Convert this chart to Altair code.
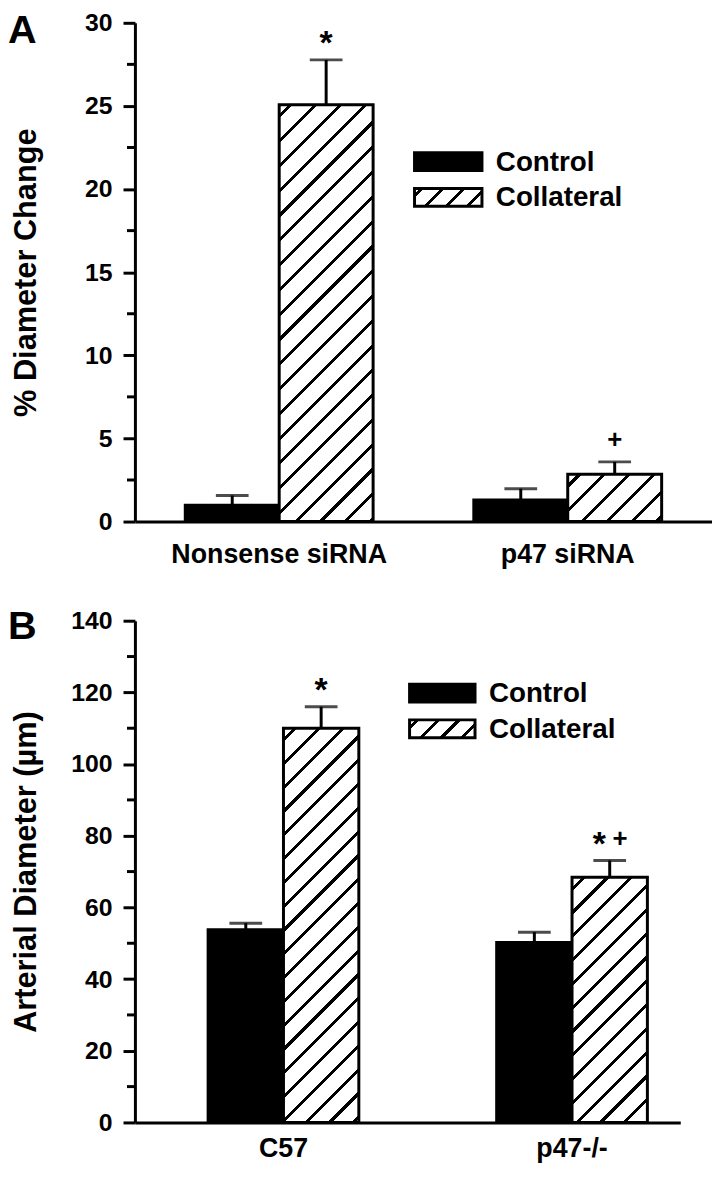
import altair as alt
import pandas as pd

# ---------------- data ----------------
series = ["Control", "Collateral"]

groups_a = ["Nonsense siRNA", "p47 siRNA"]
control_a = [0.98, 1.29]
control_a_err = [0.59, 0.69]
collateral_a = [25.07, 2.84]
collateral_a_err = [2.70, 0.75]
sig_a = ["*", "+"]            # markers above the Collateral bars
yticks_a = [0, 5, 10, 15, 20, 25, 30]
yminor_a = [2.5, 7.5, 12.5, 17.5, 22.5, 27.5]

groups_b = ["C57", "p47-/-"]
control_b = [53.8, 50.2]
control_b_err = [1.8, 2.9]
collateral_b = [110.0, 68.4]
collateral_b_err = [6.0, 4.7]
sig_b = ["*", "*+"]
yticks_b = [0, 20, 40, 60, 80, 100, 120, 140]
yminor_b = [10, 30, 50, 70, 90, 110, 130]

FONT = "Liberation Sans"


def table(groups, ctrl, ctrl_err, coll, coll_err, sig):
    rows = []
    for i, g in enumerate(groups):
        rows.append({"group": g, "series": "Control", "value": ctrl[i],
                     "upper": ctrl[i] + ctrl_err[i], "sig": ""})
        rows.append({"group": g, "series": "Collateral", "value": coll[i],
                     "upper": coll[i] + coll_err[i], "sig": sig[i]})
    return pd.DataFrame(rows)


def hatch(w, h, period, lw, phase):
    """Linear gradient with hard stops that draws '/' hatching in a w x h box."""
    S = w + h
    k = S / (w * w + h * h)
    stops = []

    def add(o, c):
        stops.append({"offset": round(min(max(o, 0.0), 1.0), 5), "color": c})

    add(0, "white")
    c = phase
    half = lw / 2.0
    while c - half < S:
        a = (c - half) / S
        b = (c + half) / S
        add(a, "white"); add(a, "black"); add(b, "black"); add(b, "white")
        c += period
    add(1, "white")
    return {"gradient": "linear", "x1": 0, "y1": 0,
            "x2": round(w * k, 5), "y2": round(h * k, 5), "stops": stops}


def panel(letter, letter_y, groups, df, yticks, yminor, ymax, ytitle, width, height,
          pin, pout, align, xlabel_pad, period, legend_x, legend_y, legend_w):
    yscale = alt.Scale(domain=[0, ymax], nice=False, zero=True)
    yaxis = alt.Axis(values=yticks, grid=False, title=ytitle,
                     domainColor="black", domainWidth=3,
                     tickColor="black", tickWidth=3, tickSize=12,
                     labelFont=FONT, labelFontSize=25, labelFontWeight="bold",
                     labelColor="black", labelPadding=11,
                     titleFont=FONT, titleFontSize=31, titleFontWeight="bold",
                     titleColor="black", titleX=-109, titleBaseline="middle")
    x = alt.X("group:N", sort=groups,
              scale=alt.Scale(domain=groups, paddingInner=pin, paddingOuter=pout, align=align),
              axis=alt.Axis(title=None, ticks=False, tickSize=0, labelAngle=0,
                            domainColor="black", domainWidth=3, labelLimit=0,
                            labelFont=FONT, labelFontSize=27, labelFontWeight="bold",
                            labelColor="black", labelPadding=xlabel_pad))
    xo = alt.XOffset("series:N", sort=series,
                     scale=alt.Scale(domain=series, paddingInner=0, paddingOuter=0))
    y_val = alt.Y("value:Q", scale=yscale, axis=yaxis)
    y_up = alt.Y("upper:Q", scale=yscale, axis=yaxis)

    base = alt.Chart(df).encode(x=x, xOffset=xo)

    step = width / (len(groups) - pin + 2 * pout)
    bar_w = step * (1 - pin) / len(series)

    layers = [
        base.transform_filter(alt.datum.series == "Control")
        .mark_bar(fill="black", stroke="black", strokeWidth=3)
        .encode(y=y_val)
    ]
    for g in groups:
        v = float(df[(df.group == g) & (df.series == "Collateral")].value.iloc[0])
        h = v / ymax * height
        layers.append(
            base.transform_filter((alt.datum.group == g) & (alt.datum.series == "Collateral"))
            .mark_bar(fill=hatch(bar_w, h, period, 4.2, 12), stroke="black", strokeWidth=3)
            .encode(y=y_val)
        )
    # error bars (upper only)
    layers.append(base.mark_rule(color="black", strokeWidth=3)
                  .encode(y=y_val, y2=alt.Y2("upper:Q")))
    layers.append(base.mark_tick(orient="horizontal", color="black", thickness=3, size=33)
                  .encode(y=y_up))
    # minor ticks of the y axis
    layers.append(alt.Chart(pd.DataFrame({"t": yminor})).mark_rule(color="black", strokeWidth=3)
                  .encode(y=alt.Y("t:Q", scale=yscale, axis=yaxis),
                          x=alt.value(-8), x2=alt.value(0)))
    # significance markers
    for g in groups:
        s = str(df[(df.group == g) & (df.series == "Collateral")].sig.iloc[0])
        n = len(s)
        for j, ch in enumerate(s):
            dx = (j - (n - 1) / 2.0) * 21
            if ch == "*":
                fs, dy = 34, -6
            else:
                fs, dy = 26, -14
            layers.append(
                base.transform_filter((alt.datum.group == g) & (alt.datum.series == "Collateral"))
                .mark_text(text=ch, dx=dx, dy=dy, fontSize=fs, font=FONT,
                           fontWeight="bold", color="black", baseline="alphabetic")
                .encode(y=y_up)
            )
    # legend
    leg = pd.DataFrame({"series": series})
    lh = 18
    for i, s in enumerate(series):
        top = legend_y + i * 36
        fill = "black" if s == "Control" else hatch(legend_w, lh, 21, 4.2, 8)
        layers.append(alt.Chart(leg).transform_filter(alt.datum.series == s)
                      .mark_rect(fill=fill, stroke="black", strokeWidth=3)
                      .encode(x=alt.value(legend_x), x2=alt.value(legend_x + legend_w),
                              y=alt.value(top), y2=alt.value(top + lh)))
        layers.append(alt.Chart(leg).transform_filter(alt.datum.series == s)
                      .mark_text(align="left", baseline="middle", font=FONT, fontSize=28,
                                 fontWeight="bold", color="black")
                      .encode(text="series:N", x=alt.value(legend_x + legend_w + 14),
                              y=alt.value(top + lh / 2 + 1)))
    # panel letter
    layers.append(alt.Chart(pd.DataFrame({"letter": [letter]}))
                  .mark_text(align="left", baseline="top", font=FONT, fontSize=40,
                             fontWeight="bold", color="black")
                  .encode(text="letter:N", x=alt.value(-128), y=alt.value(letter_y)))
    return alt.layer(*layers).properties(width=width, height=height)


df_a = table(groups_a, control_a, control_a_err, collateral_a, collateral_a_err, sig_a)
df_b = table(groups_b, control_b, control_b_err, collateral_b, collateral_b_err, sig_b)

panel_a = panel("A", -12, groups_a, df_a, yticks_a, yminor_a, 30, "% Diameter Change",
                582, 503, 0.349, 0.1745, 0.5, 20, 25, 282, 131, 68)
panel_b = panel("B", -14, groups_b, df_b, yticks_b, yminor_b, 140, "Arterial Diameter (µm)",
                550, 506, 0.4777, 0.1838, 0.69, 13, 24, 277, 64, 66)

chart = (
    alt.vconcat(panel_a, panel_b, spacing=100, bounds="flush")
    .resolve_scale(x="independent", y="independent", xOffset="independent")
    .properties(padding={"left": 0, "top": -2, "right": 0, "bottom": 0})
    .configure_view(strokeOpacity=0)
)

chart.save("out.html", embed_options={"renderer": "svg", "actions": False})
